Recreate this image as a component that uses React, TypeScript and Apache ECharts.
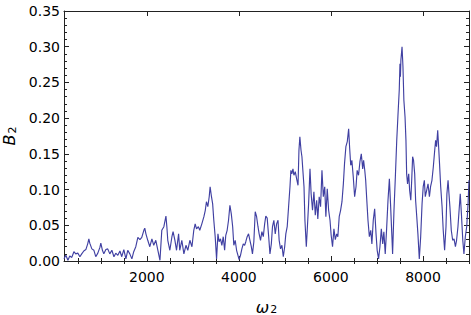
import React, { useEffect, useRef } from "react";
import * as echarts from "echarts";

const OMEGA = [
  200, 240, 285, 325, 370, 415, 455, 500, 545, 585, 630, 675, 715, 740, 760, 805, 850, 890, 935, 980,
  1000, 1035, 1065, 1110, 1150, 1195, 1240, 1285, 1325, 1370, 1415, 1455, 1500, 1545, 1585, 1630,
  1675, 1715, 1760, 1805, 1850, 1890, 1935, 1955, 1980, 2020, 2065, 2110, 2150, 2195, 2240, 2285,
  2325, 2370, 2415, 2435, 2455, 2500, 2545, 2570, 2610, 2645, 2690, 2715, 2760, 2805, 2850, 2890,
  2935, 2980, 3020, 3050, 3080, 3120, 3150, 3195, 3240, 3270, 3295, 3325, 3355, 3375, 3400, 3430,
  3455, 3485, 3515, 3545, 3570, 3600, 3630, 3660, 3690, 3715, 3745, 3775, 3805, 3835, 3865, 3890,
  3920, 3950, 3980, 4005, 4035, 4065, 4095, 4125, 4150, 4180, 4210, 4240, 4270, 4295, 4325, 4355,
  4385, 4415, 4440, 4470, 4500, 4530, 4560, 4585, 4615, 4645, 4675, 4705, 4730, 4760, 4790, 4820,
  4850, 4875, 4905, 4935, 4965, 4995, 5020, 5050, 5080, 5110, 5130, 5150, 5175, 5195, 5225, 5255,
  5285, 5305, 5325, 5350, 5370, 5390, 5415, 5435, 5465, 5485, 5515, 5545, 5570, 5600, 5630, 5660,
  5690, 5715, 5745, 5775, 5805, 5835, 5865, 5890, 5920, 5950, 5980, 6005, 6035, 6065, 6095, 6125,
  6150, 6180, 6210, 6240, 6270, 6295, 6325, 6355, 6385, 6405, 6430, 6455, 6485, 6515, 6545, 6570,
  6600, 6630, 6660, 6690, 6710, 6735, 6755, 6775, 6805, 6835, 6865, 6890, 6920, 6950, 6980, 7005,
  7035, 7065, 7095, 7125, 7150, 7180, 7210, 7240, 7270, 7295, 7325, 7340, 7370, 7400, 7430, 7455,
  7485, 7500, 7510, 7520, 7545, 7565, 7585, 7610, 7630, 7645, 7665, 7690, 7710, 7735, 7755, 7775,
  7795, 7820, 7840, 7865, 7890, 7920, 7950, 7980, 8005, 8030, 8050, 8080, 8110, 8140, 8165, 8195,
  8225, 8255, 8275, 8295, 8320, 8340, 8360, 8385, 8415, 8440, 8470, 8500, 8520, 8545, 8565, 8585,
  8615, 8645, 8675, 8705, 8730, 8760, 8790, 8810, 8835, 8865, 8890, 8920, 8950, 8980, 9000,
];

const B2 = [
  0.003, 0.008, 0.001, 0.007, 0.005, 0.013, 0.010, 0.011, 0.006, 0.010, 0.014, 0.016, 0.024, 0.031, 0.025, 0.017, 0.015, 0.006, 0.011, 0.019,
  0.025, 0.015, 0.010, 0.016, 0.017, 0.010, 0.015, 0.006, 0.011, 0.008, 0.014, 0.006, 0.016, 0.003, 0.015, 0.010,
  0.003, 0.013, 0.020, 0.033, 0.030, 0.033, 0.043, 0.046, 0.038, 0.029, 0.020, 0.031, 0.022, 0.029, 0.015, 0.001,
  0.043, 0.048, 0.063, 0.048, 0.029, 0.015, 0.034, 0.041, 0.029, 0.015, 0.038, 0.015, 0.029, 0.010, 0.022, 0.015,
  0.029, 0.020, 0.043, 0.052, 0.045, 0.048, 0.043, 0.052, 0.062, 0.071, 0.083, 0.076, 0.090, 0.104, 0.092, 0.080,
  0.057, 0.034, 0.003, 0.038, 0.027, 0.031, 0.022, 0.034, 0.015, 0.036, 0.043, 0.057, 0.078, 0.066, 0.048, 0.022,
  0.029, 0.015, 0.008, 0.002, 0.008, 0.017, 0.024, 0.022, 0.027, 0.034, 0.038, 0.029, 0.020, 0.010, 0.027, 0.069,
  0.062, 0.048, 0.038, 0.029, 0.041, 0.034, 0.052, 0.063, 0.060, 0.036, 0.010, 0.024, 0.048, 0.057, 0.038, 0.052,
  0.057, 0.029, 0.017, 0.022, 0.006, 0.020, 0.038, 0.048, 0.076, 0.104, 0.127, 0.122, 0.129, 0.120, 0.125, 0.115,
  0.106, 0.155, 0.174, 0.155, 0.146, 0.127, 0.104, 0.057, 0.020, 0.043, 0.080, 0.129, 0.094, 0.071, 0.097, 0.064,
  0.085, 0.059, 0.090, 0.076, 0.127, 0.090, 0.104, 0.062, 0.101, 0.071, 0.057, 0.036, 0.020, 0.045, 0.030, 0.038,
  0.034, 0.062, 0.071, 0.083, 0.108, 0.136, 0.160, 0.167, 0.185, 0.160, 0.134, 0.141, 0.118, 0.090, 0.104, 0.127,
  0.120, 0.139, 0.150, 0.129, 0.141, 0.127, 0.113, 0.090, 0.057, 0.034, 0.043, 0.024, 0.057, 0.073, 0.038, 0.015,
  0.003, 0.020, 0.045, 0.024, 0.041, 0.010, 0.045, 0.085, 0.115, 0.080, 0.034, 0.010, 0.071, 0.118, 0.169, 0.202,
  0.240, 0.276, 0.258, 0.281, 0.300, 0.272, 0.225, 0.202, 0.169, 0.122, 0.108, 0.122, 0.099, 0.085, 0.113, 0.146,
  0.141, 0.122, 0.085, 0.062, 0.038, 0.003, 0.034, 0.080, 0.104, 0.113, 0.090, 0.099, 0.108, 0.090, 0.104, 0.113,
  0.132, 0.155, 0.169, 0.160, 0.183, 0.160, 0.136, 0.104, 0.076, 0.043, 0.015, 0.048, 0.094, 0.113, 0.094, 0.076,
  0.043, 0.029, 0.031, 0.020, 0.029, 0.048, 0.076, 0.094, 0.066, 0.029, 0.010, 0.034, 0.048, 0.080, 0.113,
];

const X_LABELS = [2000, 4000, 6000, 8000];
const X_MINOR = [500, 1000, 1500, 2500, 3000, 3500, 4500, 5000, 5500, 6500, 7000, 7500, 8500, 9000];

const FONT = "DejaVu Sans";
const FRAME = "#222";

export default function App() {
  const ref = useRef<HTMLDivElement>(null);
  useEffect(() => {
    if (!ref.current) return;
    const chart = echarts.init(ref.current, null, { renderer: "svg" });
    const lineStyle = { color: FRAME, width: 1 };
    const xBase = { type: "value", min: 200, max: 9000, gridIndex: 0, splitLine: { show: false } };
    const yBase = { type: "value", min: 0, max: 0.35, interval: 0.05, splitLine: { show: false } };
    const nameStyle = {
      fontFamily: FONT,
      fontSize: 14,
      color: "#000",
      rich: {
        i: { fontFamily: FONT, fontSize: 16, fontStyle: "italic", color: "#000", lineHeight: 20, verticalAlign: "bottom" },
        s: { fontFamily: FONT, fontSize: 11, color: "#000", lineHeight: 14, verticalAlign: "bottom", padding: [0, 0, 0, 1] },
      },
    };
    chart.setOption({
      animation: false,
      backgroundColor: "#fff",
      grid: { left: 64, right: 2, top: 11, bottom: 54, containLabel: false, outerBoundsMode: "none" },
      xAxis: [
        {
          ...xBase,
          position: "bottom",
          axisLine: { show: true, onZero: false, lineStyle },
          axisTick: { show: true, inside: true, length: 5, customValues: X_LABELS, lineStyle },
          axisLabel: {
            customValues: X_LABELS,
            fontFamily: FONT,
            fontSize: 14,
            color: "#000",
            margin: 9,
            formatter: (v: number) => String(v),
          },
          name: "{i|ω}{s|2}",
          nameLocation: "middle",
          nameGap: 34,
          nameTextStyle: nameStyle,
        },
        {
          ...xBase,
          position: "bottom",
          axisLine: { show: false },
          axisTick: { show: true, inside: true, length: 3, customValues: X_MINOR, lineStyle },
          axisLabel: { show: false },
        },
        {
          ...xBase,
          position: "top",
          axisLine: { show: true, onZero: false, lineStyle },
          axisTick: { show: true, inside: true, length: 5, customValues: X_LABELS, lineStyle },
          axisLabel: { show: false },
        },
        {
          ...xBase,
          position: "top",
          axisLine: { show: false },
          axisTick: { show: true, inside: true, length: 3, customValues: X_MINOR, lineStyle },
          axisLabel: { show: false },
        },
      ],
      yAxis: [
        {
          ...yBase,
          position: "left",
          axisLine: { show: true, onZero: false, lineStyle },
          axisTick: { show: true, inside: true, length: 5, lineStyle },
          minorTick: { show: true, splitNumber: 5, length: 3, lineStyle },
          axisLabel: {
            fontFamily: FONT,
            fontSize: 14,
            color: "#000",
            margin: 4,
            formatter: (v: number) => v.toFixed(2),
          },
          name: "{i|B}{s|2}",
          nameLocation: "middle",
          nameRotate: 90,
          nameGap: 46,
          nameTextStyle: nameStyle,
        },
        {
          ...yBase,
          position: "right",
          axisLine: { show: true, onZero: false, lineStyle },
          axisTick: { show: true, inside: true, length: 5, lineStyle },
          minorTick: { show: true, splitNumber: 5, length: 3, lineStyle },
          axisLabel: { show: false },
        },
      ],
      series: [
        {
          type: "line",
          xAxisIndex: 0,
          yAxisIndex: 0,
          data: OMEGA.map((w, i) => [w, B2[i]]),
          showSymbol: false,
          symbol: "none",
          lineStyle: { color: "#4040a2", width: 1.15 },
          itemStyle: { color: "#4040a2" },
        },
      ],
    });
    return () => chart.dispose();
  }, []);
  return <div ref={ref} style={{ width: 471, height: 315, position: "absolute", left: 0, top: 0 }} />;
}
